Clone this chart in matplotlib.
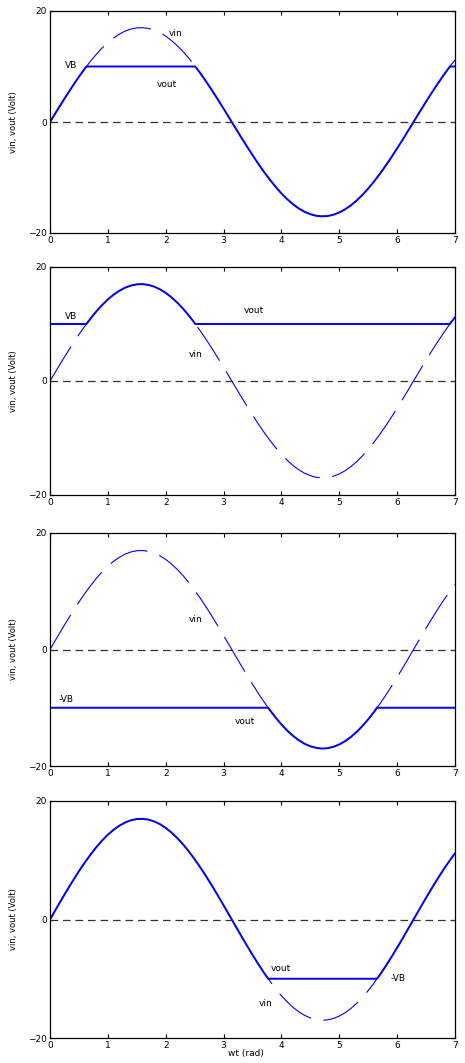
import matplotlib.pyplot as plt
import numpy as np

plt.rcParams['font.family'] = ['DejaVu Sans']
plt.rcParams['lines.scale_dashes'] = False

# wt (rad) grid, 0.1 rad apart, and vin values
wt = np.round(np.arange(0, 71) * 0.1, 1)
vin = [0.0, 1.70, 3.38, 5.02, 6.62, 8.15, 9.60, 10.95, 12.20, 13.32,
       14.31, 15.15, 15.84, 16.38, 16.75, 16.96, 16.99, 16.86, 16.56, 16.09,
       15.46, 14.67, 13.74, 12.68, 11.48, 10.17, 8.76, 7.27, 5.70, 4.07,
       2.40, 0.71, -0.99, -2.68, -4.34, -5.96, -7.52, -9.01, -10.40, -11.69,
       -12.87, -13.91, -14.82, -15.58, -16.18, -16.62, -16.89, -17.00, -16.94, -16.70,
       -16.30, -15.74, -15.02, -14.15, -13.14, -11.99, -10.73, -9.36, -7.90, -6.36,
       -4.75, -3.10, -1.41, 0.29, 1.98, 3.66, 5.30, 6.88, 8.40, 9.83,
       11.17]

VB = 10
# where vin crosses +VB and -VB
cross_pos = [0.63, 2.51, 6.91]
cross_neg = [3.77, 5.65]

# per panel: clip level, crossings, clipping mode
levels = [VB, VB, -VB, -VB]
crossings = [cross_pos, cross_pos, cross_neg, cross_neg]
modes = ['min', 'max', 'min', 'max']

# annotations (text, x, y) per panel
notes = [
    [('vin', 2.06, 16.0), ('VB', 0.26, 10.2), ('vout', 1.85, 6.7)],
    [('VB', 0.26, 11.3), ('vin', 2.40, 4.7), ('vout', 3.35, 12.3)],
    [('vin', 2.40, 5.1), ('-VB', 0.14, -8.6), ('vout', 3.2, -12.3)],
    [('vout', 3.82, -8.2), ('-VB', 5.89, -9.9), ('vin', 3.61, -14.1)],
]

W, H = 465, 1063
left_px, right_px = 50, 455
panels_px = [(11, 233), (267, 495), (533, 766), (801, 1038)]

fig = plt.figure(figsize=(W / 100, H / 100), dpi=100)
blue = '#0000ff'

for i, (top, bot) in enumerate(panels_px):
    ax = fig.add_axes([left_px / W, 1 - bot / H,
                       (right_px - left_px) / W, (bot - top) / H])
    lvl = levels[i]

    xs = np.concatenate([wt, crossings[i]])
    ys = np.concatenate([vin, [lvl] * len(crossings[i])])
    order = np.argsort(xs)
    xs, ys = xs[order], ys[order]
    if modes[i] == 'min':
        vout = np.minimum(ys, lvl)
    else:
        vout = np.maximum(ys, lvl)

    ax.plot(xs, ys, color=blue, lw=0.8, dashes=(29, 9))
    ax.plot(xs, vout, color=blue, lw=1.4, solid_joinstyle='round')
    ax.axhline(0, color='#333333', lw=0.9, dashes=(5.5, 3.5))

    for txt, tx, ty in notes[i]:
        ax.text(tx, ty, txt, fontsize=6.5, va='center', ha='left')

    ax.set_xlim(0, 7)
    ax.set_ylim(-20, 20)
    ax.set_xticks(range(8))
    ax.set_yticks([-20, 0, 20])
    ax.tick_params(direction='in', top=True, right=True, length=3,
                   width=0.8, labelsize=6.5, pad=2)
    for s in ax.spines.values():
        s.set_linewidth(0.9)
    ax.set_ylabel('vin, vout (Volt)', fontsize=6)
    ax.yaxis.set_label_coords(-0.08, 0.5)
    if i == 3:
        ax.set_xlabel('wt (rad)', fontsize=6.5, labelpad=1)
        ax.xaxis.set_label_coords(0.485, -0.045)

fig.savefig('out.png', dpi=100)
